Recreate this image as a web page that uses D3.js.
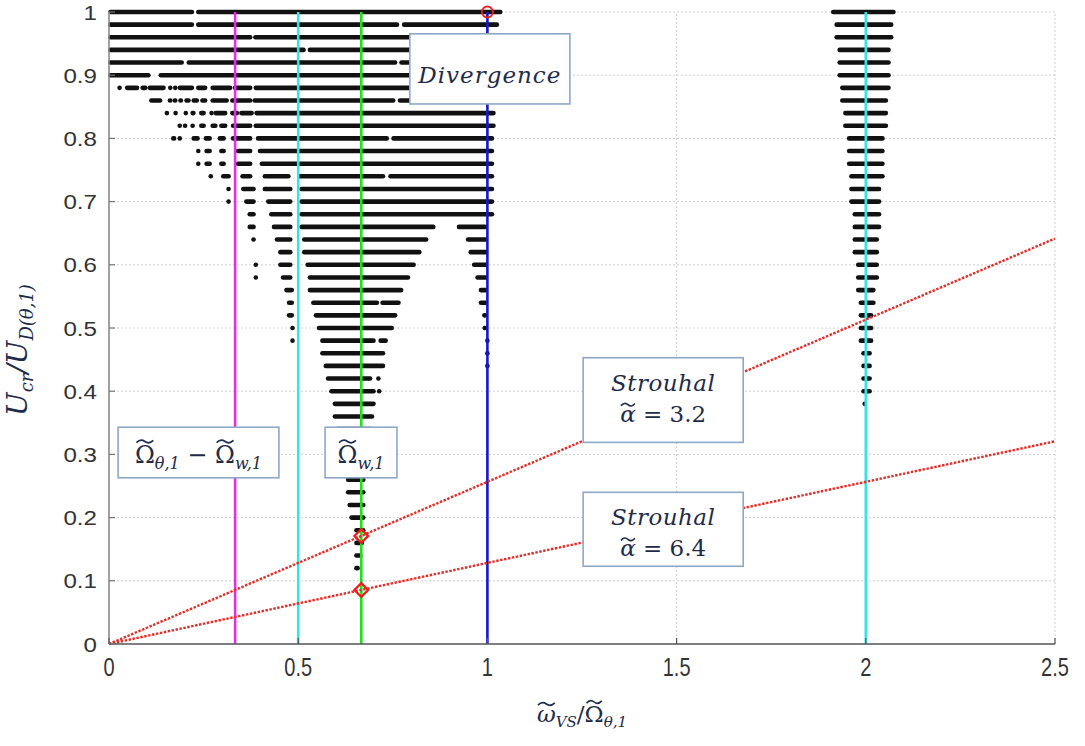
<!DOCTYPE html>
<html><head><meta charset="utf-8">
<script src="https://cdn.jsdelivr.net/npm/d3@7"></script>
<style>body{margin:0;background:#fff}</style>
</head><body><svg id="c" width="1085" height="746"></svg>
<script>
// ---------- data ----------
const xTicks = [0, 0.5, 1, 1.5, 2, 2.5];
const xTickLabels = ["0", "0.5", "1", "1.5", "2", "2.5"];
const yTicks = [0, 0.1, 0.2, 0.3, 0.4, 0.5, 0.6, 0.7, 0.8, 0.9, 1];
const yTickLabels = ["0", "0.1", "0.2", "0.3", "0.4", "0.5", "0.6", "0.7", "0.8", "0.9", "1"];

// unstable region near x ~ 0..1 : [U level, [[x0,x1], ...]]
const mainRows = [
  [1.00, [[0,0.223],[0.232,1.038]]],
  [0.98, [[0,0.223],[0.232,0.765],[0.776,1.029]]],
  [0.96, [[0,0.377],[0.383,1.03]]],
  [0.94, [[0,0.518],[0.527,1.03]]],
  [0.92, [[0,0.196],[0.207,0.760],[0.769,1.03]]],
  [0.90, [[0,0.108],[0.133,1.03]]],
  [0.88, [[0.024,0.027],[0.044,0.078],[0.085,0.100],[0.104,0.148],[0.158,0.164],[0.171,0.176],[0.183,0.223],[0.232,0.258],[0.270,0.324],[0.329,0.377],[0.384,1.03]]],
  [0.86, [[0.108,0.139],[0.157,0.166],[0.170,0.179],[0.185,0.194],[0.201,0.214],[0.220,0.236],[0.243,0.258],[0.270,0.315],[0.322,0.377],[0.381,0.755],[0.765,1.03]]],
  [0.84, [[0.149,0.153],[0.172,0.176],[0.199,0.203],[0.217,0.227],[0.240,0.254],[0.267,0.271],[0.278,0.311],[0.322,0.342],[0.346,0.381],[0.386,1.02]]],
  [0.82, [[0.183,0.190],[0.197,0.205],[0.217,0.225],[0.240,0.254],[0.270,0.285],[0.293,0.311],[0.324,0.377],[0.384,1.02]]],
  [0.80, [[0.166,0.176],[0.183,0.190],[0.220,0.238],[0.252,0.270],[0.289,0.307],[0.324,0.377],[0.390,0.738],[0.748,1.016]]],
  [0.78, [[0.232,0.236],[0.254,0.270],[0.293,0.307],[0.337,0.377],[0.395,1.016]]],
  [0.76, [[0.232,0.236],[0.254,0.270],[0.293,0.307],[0.337,0.377],[0.400,1.016]]],
  [0.74, [[0.265,0.269],[0.298,0.320],[0.349,0.377],[0.408,0.478],[0.500,0.728],[0.740,1.016]]],
  [0.72, [[0.312,0.316],[0.351,0.386],[0.408,0.483],[0.505,1.016]]],
  [0.70, [[0.312,0.316],[0.359,0.386],[0.417,0.483],[0.505,1.016]]],
  [0.68, [[0.368,0.386],[0.425,0.483],[0.505,1.016]]],
  [0.66, [[0.368,0.386],[0.432,0.483],[0.505,0.861],[0.921,0.998]]],
  [0.64, [[0.378,0.382],[0.440,0.483],[0.512,0.842],[0.945,1.000]]],
  [0.62, [[0.449,0.483],[0.512,0.824],[0.952,1.000]]],
  [0.60, [[0.384,0.388],[0.449,0.483],[0.521,0.809],[0.961,1.000]]],
  [0.58, [[0.384,0.388],[0.456,0.483],[0.527,0.794],[0.970,1.000]]],
  [0.56, [[0.465,0.487],[0.527,0.776],[0.979,1.000]]],
  [0.54, [[0.472,0.487],[0.536,0.712],[0.719,0.769],[0.979,1.000]]],
  [0.52, [[0.472,0.487],[0.543,0.760],[0.988,0.998]]],
  [0.50, [[0.481,0.485],[0.551,0.751],[0.989,0.998]]],
  [0.48, [[0.481,0.485],[0.560,0.703],[0.714,0.735],[0.996,0.999]]],
  [0.46, [[0.560,0.728],[0.996,0.999]]],
  [0.44, [[0.569,0.728],[0.996,0.999]]],
  [0.42, [[0.575,0.694],[0.708,0.712]]],
  [0.40, [[0.584,0.703],[0.710,0.714]]],
  [0.38, [[0.593,0.703]]],
  [0.36, [[0.593,0.699]]],
  [0.34, [[0.600,0.695]]],
  [0.32, [[0.605,0.690]]],
  [0.30, [[0.612,0.685]]],
  [0.28, [[0.620,0.680]]],
  [0.26, [[0.628,0.676]]],
  [0.24, [[0.628,0.676]]],
  [0.22, [[0.632,0.676]]],
  [0.20, [[0.637,0.676]]],
  [0.18, [[0.650,0.676]]],
  [0.16, [[0.650,0.672]]],
  [0.14, [[0.650,0.668]]],
  [0.12, [[0.650,0.661]]]
];

// unstable region near x ~ 2
const sideLevels = [1.00,0.98,0.96,0.94,0.92,0.90,0.88,0.86,0.84,0.82,0.80,0.78,0.76,0.74,0.72,0.70,0.68,0.66,0.64,0.62,0.60,0.58,0.56,0.54,0.52,0.50,0.48,0.46,0.44,0.42,0.40,0.38];
const sideStart  = [1.910,1.919,1.919,1.927,1.927,1.927,1.934,1.934,1.942,1.942,1.952,1.952,1.952,1.958,1.958,1.958,1.967,1.967,1.967,1.967,1.976,1.976,1.976,1.983,1.983,1.983,1.983,1.990,1.990,1.990,1.990,1.993];
const sideEnd    = [2.077,2.071,2.071,2.064,2.064,2.064,2.064,2.057,2.057,2.057,2.048,2.048,2.048,2.048,2.039,2.039,2.039,2.039,2.033,2.033,2.033,2.033,2.024,2.024,2.018,2.018,2.018,2.014,2.014,2.014,2.014,1.997];

// reference frequency ratios (vertical lines)
const refFreq   = [0.3333, 0.5, 0.6667, 1.0, 2.0];
const refColors = ["#dd33dd", "#33e6e6", "#22dd22", "#1616cc", "#33e6e6"];

// Strouhal lines  U = slope * x
const strouhalAlpha = [3.2, 6.4];
const strouhalSlope = [0.2566, 0.1283];
const strouhalXmax = 2.5;

// markers
const diamondX = [0.6667, 0.6667];
const diamondY = [0.171, 0.0855];
const divergencePt = [1.0, 1.0];

// ---------- drawing ----------
const svg = d3.select("#c");
const x = d3.scaleLinear().domain([0, 2.5]).range([109, 1055]);
const y = d3.scaleLinear().domain([0, 1]).range([644, 12]);

// grid
const grid = svg.append("g");
grid.selectAll("line.gx").data(xTicks.slice(1)).join("line")
  .attr("x1", d => x(d)).attr("x2", d => x(d)).attr("y1", y(0)).attr("y2", y(1))
  .attr("stroke", "#cfcfcf").attr("stroke-width", 1).attr("stroke-dasharray", "2,2");
grid.selectAll("line.gy").data(yTicks.slice(1)).join("line")
  .attr("y1", d => y(d)).attr("y2", d => y(d)).attr("x1", x(0)).attr("x2", x(2.5))
  .attr("stroke", "#cfcfcf").attr("stroke-width", 1).attr("stroke-dasharray", "2,2");

// black unstable rows
const rows = svg.append("g").attr("stroke", "#111").attr("stroke-width", 4.6).attr("stroke-linecap", "round");
mainRows.forEach(([u, segs]) => {
  segs.forEach(([a, b]) => {
    rows.append("line").attr("x1", x(a) + 1.5).attr("x2", Math.max(x(b) - 1.5, x(a) + 1.5))
      .attr("y1", y(u)).attr("y2", y(u));
  });
});
sideLevels.forEach((u, i) => {
  rows.append("line").attr("x1", x(sideStart[i]) + 1.5).attr("x2", Math.max(x(sideEnd[i]) - 1.5, x(sideStart[i]) + 1.5))
    .attr("y1", y(u)).attr("y2", y(u));
});

// vertical lines
svg.append("g").selectAll("line").data(refFreq).join("line")
  .attr("x1", d => x(d)).attr("x2", d => x(d)).attr("y1", y(0)).attr("y2", y(1))
  .attr("stroke", (d, i) => refColors[i]).attr("stroke-width", 2.6);

// Strouhal lines
svg.append("g").selectAll("line").data(strouhalSlope).join("line")
  .attr("x1", x(0)).attr("y1", y(0))
  .attr("x2", x(strouhalXmax)).attr("y2", d => y(d * strouhalXmax))
  .attr("stroke", "#e0302c").attr("stroke-width", 2.4).attr("stroke-dasharray", "2.5,1.5");

// diamonds
svg.append("g").selectAll("path").data(diamondX).join("path")
  .attr("d", d3.symbol().type(d3.symbolDiamond2).size(120))
  .attr("transform", (d, i) => `translate(${x(d)},${y(diamondY[i])})`)
  .attr("fill", "none").attr("stroke", "#ee1c1c").attr("stroke-width", 2.3);
// divergence point
svg.append("circle").attr("cx", x(divergencePt[0])).attr("cy", y(divergencePt[1])).attr("r", 5.5)
  .attr("fill", "none").attr("stroke", "#e52222").attr("stroke-width", 1.8);

// axes
const axG = svg.append("g");
axG.append("line").attr("x1", x(0)).attr("x2", x(0)).attr("y1", y(0)).attr("y2", y(1)).attr("stroke", "#8a8a8a").attr("stroke-width", 1.6);
axG.append("line").attr("x1", x(0)).attr("x2", x(2.5)).attr("y1", y(0)).attr("y2", y(0)).attr("stroke", "#555").attr("stroke-width", 1.6);
axG.selectAll("line.ty").data(yTicks).join("line").attr("class","ty")
  .attr("x1", x(0)).attr("x2", x(0) + 6).attr("y1", d => y(d)).attr("y2", d => y(d)).attr("stroke", "#777").attr("stroke-width", 1.2);
axG.selectAll("line.tx").data(xTicks).join("line").attr("class","tx")
  .attr("x1", d => x(d)).attr("x2", d => x(d)).attr("y1", y(0)).attr("y2", y(0) - 6).attr("stroke", "#555").attr("stroke-width", 1.2);
axG.selectAll("text.ly").data(yTicks).join("text").attr("class","ly")
  .attr("transform", d => `translate(${x(0) - 12},${y(d) + 7.5}) scale(1.15,1)`).attr("text-anchor", "end")
  .attr("font-family", "Liberation Sans, Arial, sans-serif").attr("font-size", 21).attr("fill", "#333")
  .text((d, i) => yTickLabels[i]);
axG.selectAll("text.lx").data(xTicks).join("text").attr("class","lx")
  .attr("transform", d => `translate(${x(d)},${y(0) + 32}) scale(0.8,1)`).attr("text-anchor", "middle")
  .attr("font-family", "Liberation Sans, Arial, sans-serif").attr("font-size", 25).attr("fill", "#333")
  .text((d, i) => xTickLabels[i]);

// tilde helper: draws a wide tilde above chosen characters of a text element
function addTildes(g, textSel, chars, w0, lift) {
  const node = textSel.node();
  const s = node.textContent;
  for (let i = 0; i < s.length; i++) {
    if (chars.indexOf(s[i]) >= 0) {
      const ext = node.getExtentOfChar(i);
      const cx = ext.x + ext.width / 2;
      const w = ext.width * w0;
      const ty = ext.y + lift;
      const h = 2.2;
      g.append("path")
        .attr("d", `M${cx - w/2},${ty + h/2} Q${cx - w/4},${ty - h*1.4} ${cx},${ty} T${cx + w/2},${ty - h/2}`)
        .attr("fill", "none").attr("stroke", textSel.attr("fill")).attr("stroke-width", 1.6);
    }
  }
}

// axis titles
const tcol = "#1f2b48";
const tf = "DejaVu Serif, serif";
const xg = svg.append("g");
const xt = xg.append("text").attr("x", 582).attr("y", 722).attr("text-anchor", "middle")
  .attr("font-family", tf).attr("font-size", 23).attr("fill", tcol);
xt.append("tspan").attr("font-style", "italic").text("ω");
xt.append("tspan").attr("font-style", "italic").attr("font-size", 15).attr("dy", 5).text("VS");
xt.append("tspan").attr("dy", -5).text("/Ω");
xt.append("tspan").attr("font-style", "italic").attr("font-size", 15).attr("dy", 5).text("θ,1");
addTildes(xg, xt, "ω", 0.9, 3);
addTildes(xg, xt, "Ω", 0.8, 1);

const yt = svg.append("text").attr("transform", "translate(27,350) rotate(-90)").attr("text-anchor", "middle")
  .attr("font-family", tf).attr("font-size", 28).attr("fill", tcol).attr("font-style", "italic");
yt.append("tspan").text("U");
yt.append("tspan").attr("font-size", 18).attr("dy", 6).text("cr");
yt.append("tspan").attr("dy", -6).text("/U");
yt.append("tspan").attr("font-size", 18).attr("dy", 6).text("D(θ,1)");

// annotation boxes
function box(x0, y0, x1, y1) {
  svg.append("rect").attr("x", x(x0)).attr("y", y(y0)).attr("width", x(x1) - x(x0)).attr("height", y(y1) - y(y0))
    .attr("fill", "#fff").attr("stroke", "#8ea7c9").attr("stroke-width", 1.6);
}
// Divergence
box(0.795, 0.9655, 1.218, 0.8545);
svg.append("text").attr("x", (x(0.795) + x(1.218)) / 2).attr("y", y(0.9) + 8).attr("text-anchor", "middle")
  .attr("font-family", tf).attr("font-style", "italic").attr("font-size", 23).attr("fill", tcol).attr("letter-spacing", 1).text("Divergence");

// Omega_theta - Omega_w
box(0.024, 0.343, 0.449, 0.263);
const g1 = svg.append("g");
const t1 = g1.append("text").attr("x", (x(0.024) + x(0.449)) / 2).attr("y", y(0.303) + 10).attr("text-anchor", "middle")
  .attr("font-family", tf).attr("font-size", 24).attr("fill", tcol);
t1.append("tspan").text("Ω");
t1.append("tspan").attr("font-size", 16).attr("dy", 6).attr("font-style", "italic").text("θ,1");
t1.append("tspan").attr("dy", -6).text(" − Ω");
t1.append("tspan").attr("font-size", 16).attr("dy", 6).attr("font-style", "italic").text("w,1");
addTildes(g1, t1, "Ω", 0.85, 1);

// Omega_w
box(0.571, 0.343, 0.761, 0.263);
const g2 = svg.append("g");
const t2 = g2.append("text").attr("x", (x(0.571) + x(0.761)) / 2).attr("y", y(0.303) + 10).attr("text-anchor", "middle")
  .attr("font-family", tf).attr("font-size", 24).attr("fill", tcol);
t2.append("tspan").text("Ω");
t2.append("tspan").attr("font-size", 16).attr("dy", 6).attr("font-style", "italic").text("w,1");
addTildes(g2, t2, "Ω", 0.85, 1);

// Strouhal boxes
const sBoxes = [[0.453, 0.319], [0.240, 0.123]];
sBoxes.forEach(([top, bot], i) => {
  box(1.253, top, 1.676, bot);
  const xm = (x(1.253) + x(1.676)) / 2;
  svg.append("text").attr("x", xm).attr("y", y(top) + 33).attr("text-anchor", "middle")
    .attr("font-family", tf).attr("font-style", "italic").attr("font-size", 23).attr("fill", tcol).attr("letter-spacing", 0.5).text("Strouhal");
  const g = svg.append("g");
  const t = g.append("text").attr("x", xm).attr("y", y(top) + 64).attr("text-anchor", "middle")
    .attr("font-family", tf).attr("font-size", 23).attr("fill", tcol);
  t.append("tspan").attr("font-style", "italic").text("α");
  t.append("tspan").text(" = " + strouhalAlpha[i].toFixed(1));
  addTildes(g, t, "α", 0.9, 4);
});
</script>
</body></html>
